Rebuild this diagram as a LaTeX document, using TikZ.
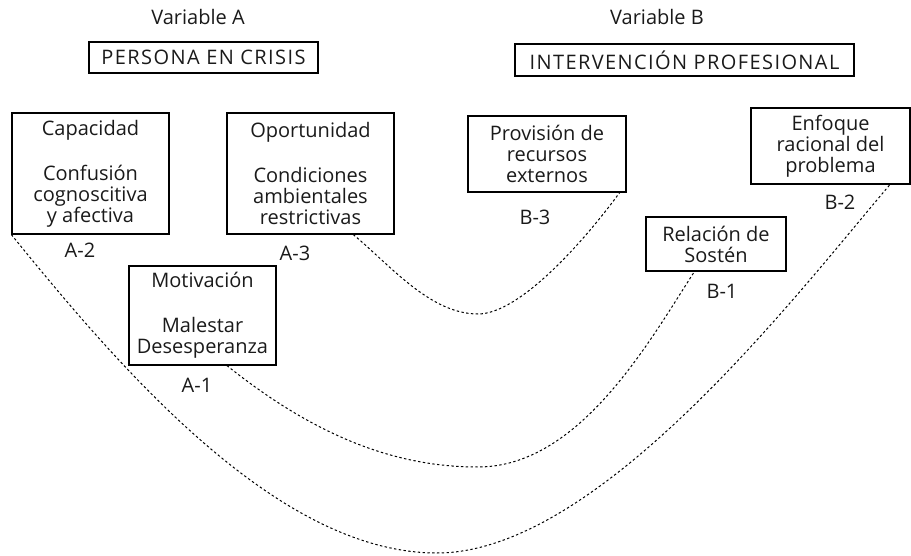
\documentclass[tikz,border=0pt]{standalone}
\usepackage{fontspec}
\setmainfont{Open Sans}
\usetikzlibrary{positioning}
\definecolor{inkGray}{HTML}{1A1A1A}

\begin{document}
\begin{tikzpicture}[x=0.5pt, y=-0.5pt,
    every node/.style={font=\fontsize{10}{10.5}\selectfont, text=inkGray},
    box/.style={draw, line width=0.6pt, align=center, inner sep=0pt},
    headbox/.style={box, font=\fontsize{10}{10.5}\selectfont\addfontfeature{LetterSpace=7}},
    link/.style={line width=0.5pt, dash pattern=on 1.2pt off 1.2pt}]
    \useasboundingbox (0,0) rectangle (911,556);
    % the two variables
    \node (vara) at (198,17) {Variable A};
    \node (varb) at (657,17) {Variable B};
    \node[headbox, minimum width=114.5pt, minimum height=15.5pt] (persona) at (203.5,57.5) {PERSONA EN CRISIS};
    \node[headbox, minimum width=169.5pt, minimum height=16pt] (interv) at (684.5,60) {INTERVENCIÓN PROFESIONAL};
    % variable A
    \node[box, minimum width=78.5pt, minimum height=60.5pt] (cap) at (90.5,173.5)
        {Capacidad\\[12pt]Confusión\\cognoscitiva\\y afectiva};
    \node[box, minimum width=83.5pt, minimum height=60.5pt] (opo) at (310.5,173.5)
        {Oportunidad\\[12pt]Condiciones\\ambientales\\restrictivas};
    \node[box, minimum width=73.5pt, minimum height=49.5pt] (mot) at (202.5,315.5)
        {Motivación\\[12pt]Malestar\\Desesperanza};
    \node (la2) at (80,250) {A-2};
    \node (la3) at (295,253) {A-3};
    \node (la1) at (197,385) {A-1};
    % variable B
    \node[box, minimum width=79pt, minimum height=38pt] (prov) at (547,154)
        {Provisión de\\recursos\\externos};
    \node[box, minimum width=79.5pt, minimum height=38pt] (enf) at (830.5,146)
        {Enfoque\\racional del\\problema};
    \node[box, minimum width=70pt, minimum height=27pt] (rel) at (716,244)
        {Relación de\\Sostén};
    \node (lb3) at (535,217) {B-3};
    \node (lb2) at (840,202) {B-2};
    \node (lb1) at (722,291) {B-1};
    % links A -> B
    \draw[link] (opo.-55) .. controls (390,265) and (430,314) .. (478,314)
        .. controls (520,314) and (585,240) .. (prov.-28);
    \draw[link] (mot.-64) .. controls (320,440) and (400,467) .. (478,467)
        .. controls (580,467) and (650,340) .. (rel.-128);
    \draw[link] (cap.south west) .. controls (125,375) and (280,553) .. (437,553)
        .. controls (600,553) and (800,290) .. (enf.-33);
\end{tikzpicture}
\end{document}
